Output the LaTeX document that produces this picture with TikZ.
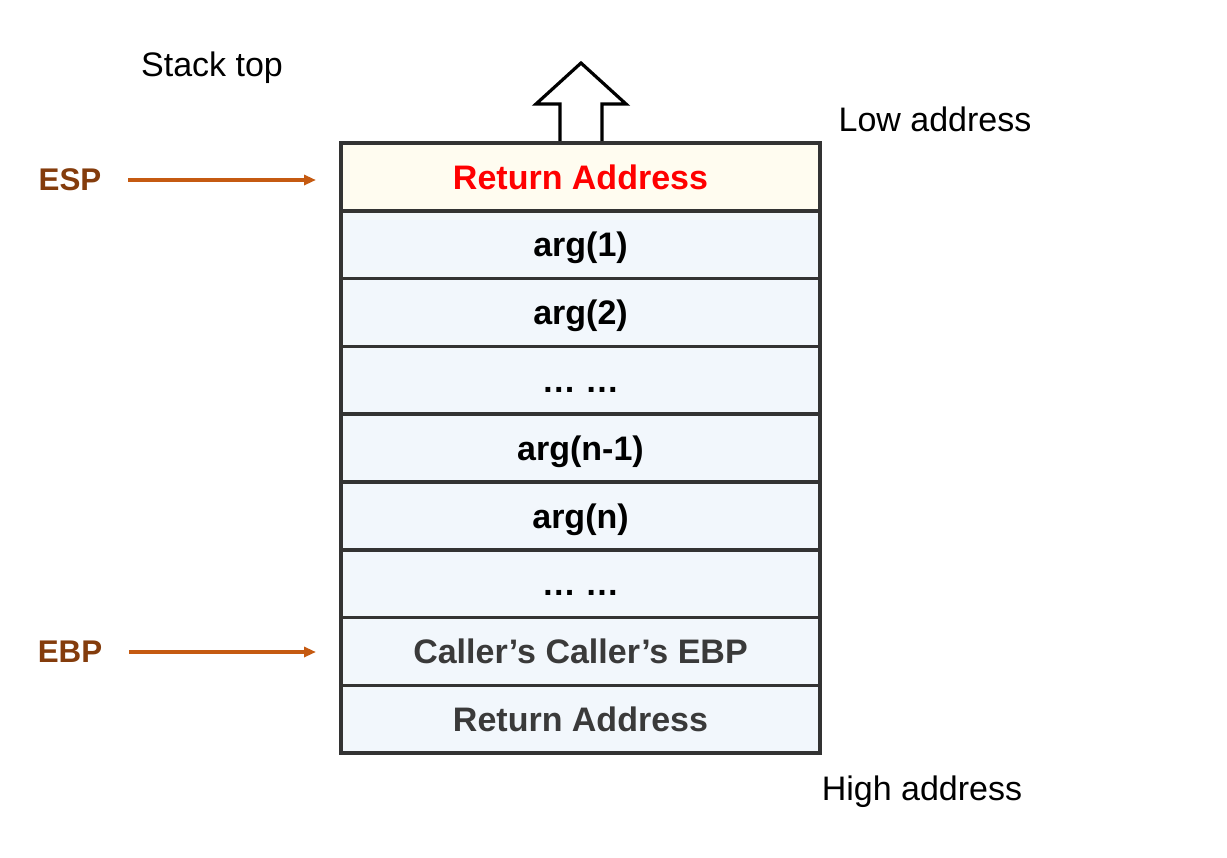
\documentclass[tikz,border=0pt]{standalone}
\usepackage{fontspec}
\setmainfont{Liberation Sans}
\usetikzlibrary{positioning,arrows.meta}

\definecolor{cellborder}{HTML}{333333}
\definecolor{topfill}{HTML}{FFFCF0}
\definecolor{cellfill}{HTML}{F2F7FC}
\definecolor{regtext}{HTML}{843C0C}
\definecolor{ptrcolor}{HTML}{C55A11}
\definecolor{graytext}{HTML}{3A3A3A}

\newcommand*{\cellw}{359.25pt}
\newcommand*{\cellh}{50.85pt}

\begin{document}
\begin{tikzpicture}
[
	x=0.75pt,y=-0.75pt,
	font=\fontsize{25.5}{30}\selectfont,
	cell/.style={rectangle,draw=cellborder,line width=2.8pt,fill=cellfill,
		minimum width=\cellw,minimum height=\cellh,inner sep=0pt,outer sep=0pt,
		text height=18.3pt,text depth=0pt,font=\fontsize{25.5}{30}\selectfont\bfseries},
	reglabel/.style={text=regtext,font=\fontsize{23.5}{28}\selectfont\bfseries,inner sep=0pt},
	ptr/.style={-{Triangle[length=9pt,width=7.5pt]},ptrcolor,line width=2.5pt},
]
	\useasboundingbox (0,0) rectangle (1227,857);

	% push direction
	\draw[line width=2.4pt,fill=white,miter limit=10]
		(560,150) -- (560,104) -- (536,104) -- (581,63) -- (626,104) -- (602,104) -- (602,150) -- cycle;

	% stack cells
	\node[cell,fill=topfill,text=red] (r0) at (580.5,176.9) {Return Address};
	\node[cell,below=0pt of r0] (r1) {arg(1)};
	\node[cell,below=0pt of r1] (r2) {arg(2)};
	\node[cell,below=0pt of r2] (r3) {… …};
	\node[cell,below=0pt of r3] (r4) {arg(n-1)};
	\node[cell,below=0pt of r4] (r5) {arg(n)};
	\node[cell,below=0pt of r5] (r6) {… …};
	\node[cell,below=0pt of r6,text=graytext] (r7) {Caller’s Caller’s EBP};
	\node[cell,below=0pt of r7,text=graytext] (r8) {Return Address};

	% labels
	\node (stacktop) at (212,68) {Stack top};
	\node (lowaddr) at (935,119) {Low address};
	\node (highaddr) at (922,792) {High address};

	% registers
	\node[reglabel] (esp) at (70,180) {ESP};
	\node[reglabel] (ebp) at (70,652) {EBP};
	\draw[ptr,shorten <=20pt,shorten >=18.75pt] (esp.east) -- (esp.east -| r0.west);
	\draw[ptr,shorten <=20pt,shorten >=18.75pt] (ebp.east) -- (ebp.east -| r7.west);

\end{tikzpicture}
\end{document}
